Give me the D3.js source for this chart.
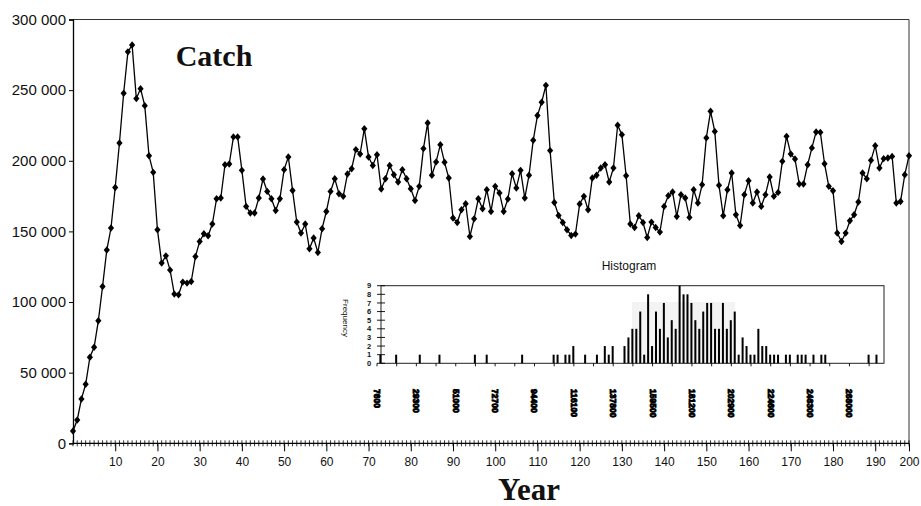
<!DOCTYPE html>
<html><head><meta charset="utf-8">
<script src="https://cdn.jsdelivr.net/npm/d3@7/dist/d3.min.js"></script>
<style>body{margin:0;background:#fff}svg{display:block}</style>
</head><body>
<svg id="c" width="921" height="506"></svg>
<script>
// ---- data ----
const catchValues = [
  8700,16500,31400,41800,60900,68000,86700,111000,136800,152400,
  181100,212600,247800,277100,282000,244000,251000,239000,203600,191800,
  151200,127600,132700,122600,105600,105100,114100,113400,114500,132200,
  142900,148300,146900,155200,173100,173600,197200,197700,216900,216900,
  193200,167700,163000,163000,173600,187100,178300,173100,164800,173100,
  193700,202700,179000,156600,148800,155200,137700,145300,135100,151900,
  164100,178300,187300,176700,174800,190600,194400,207900,204800,222700,
  202700,196700,204300,180000,187300,196700,190100,185000,193700,187300,
  180200,171900,181900,208600,226800,189700,199200,211400,198900,187800,
  159500,156300,165300,169600,146400,158900,173100,166000,179500,164100,
  181900,177200,164100,172900,190800,180700,193200,173600,189700,214500,
  232000,241400,253400,207200,170500,161300,156300,151200,147100,148100,
  169400,174800,165300,187800,189700,194900,197200,185000,194900,225100,
  218500,189400,155200,152800,161100,156300,145700,156600,152800,149500,
  167700,175300,177900,160600,176000,173600,159900,179500,170100,183100,
  216200,235000,220800,182600,161100,179500,191300,161800,154200,176000,
  185900,170100,177900,167700,176000,188500,174800,177600,199600,217300,
  204800,201300,183600,183600,197200,209100,220400,220100,197900,181900,
  178800,148800,142900,148800,157500,161800,170800,191300,187300,200300,
  210700,194900,201500,202000,203100,170100,171200,190100,203600
];
const yTickValues = [0, 50000, 100000, 150000, 200000, 250000, 300000];
const yTickLabels = ["0", "50 000", "100 000", "150 000", "200 000", "250 000", "300 000"];
const xTickYears  = [10, 20, 30, 40, 50, 60, 70, 80, 90, 100, 110, 120, 130, 140, 150, 160, 170, 180, 190, 198];
const xTickLabels = ["10","20","30","40","50","60","70","80","90","100","110","120","130","140","150","160","170","180","190","200"];
const titleText = "Catch";
const xTitle = "Year";

// histogram inset
const histTitle = "Histogram";
const histYLabel = "Frequency";
const histMin = 7600;
const histBinWidth = 2170;
const histBinCount = 127;
const histYTicks = [0,1,2,3,4,5,6,7,8,9];
const histXLabelBins = [0,10,20,30,40,50,60,70,80,90,100,110,120];
const histXLabels = ["7600","29300","51000","72700","94400","116100","137800","159500","181200","202900","224600","246300","268000"];

// ---- drawing ----
const svg = d3.select("#c");
const sans = "'Liberation Sans', Arial, sans-serif";
const serif = "'Liberation Serif', 'Times New Roman', serif";

const x = d3.scaleLinear().domain([0, catchValues.length - 1]).range([73, 909]);
const y = d3.scaleLinear().domain([0, 300000]).range([443.3, 19.5]);

// frame (top & right)
svg.append("path")
  .attr("d", `M${x.range()[0]},${y(300000)}H${x.range()[1]}V${y(0)}`)
  .attr("fill", "none").attr("stroke", "#333").attr("stroke-width", 1);

// y axis
const gy = svg.append("g").attr("transform", `translate(${x.range()[0]},0)`)
  .call(d3.axisLeft(y).tickValues(yTickValues).tickFormat((d, i) => yTickLabels[i]).tickSize(4).tickPadding(3));
gy.select(".domain").attr("stroke", "#000").attr("stroke-width", 1.3);
gy.selectAll(".tick line").attr("stroke", "#000");
gy.selectAll("text").attr("font-family", sans).attr("font-size", 15).attr("fill", "#111");

// x axis baseline
svg.append("line").attr("x1", x.range()[0]).attr("x2", x.range()[1])
  .attr("y1", y(0)).attr("y2", y(0)).attr("stroke", "#000").attr("stroke-width", 1.2);
// minor cross ticks every year
svg.append("g").selectAll("line").data(catchValues.map((d, i) => i)).join("line")
  .attr("x1", d => x(d)).attr("x2", d => x(d))
  .attr("y1", y(0) - 3).attr("y2", y(0) + 3)
  .attr("stroke", "#000").attr("stroke-width", 0.8);
// major ticks + labels
const gx = svg.append("g").attr("transform", `translate(0,${y(0)})`)
  .call(d3.axisBottom(x).tickValues(xTickYears).tickFormat((d, i) => xTickLabels[i]).tickSize(8).tickPadding(6));
gx.select(".domain").remove();
gx.selectAll(".tick line").attr("stroke", "#000").attr("stroke-width", 1);
gx.selectAll("text").attr("font-family", sans).attr("font-size", 12).attr("fill", "#111");

// line series
svg.append("path").datum(catchValues)
  .attr("d", d3.line().x((d, i) => x(i)).y(d => y(d)))
  .attr("fill", "none").attr("stroke", "#000").attr("stroke-width", 1.3);

const diamond = { draw(ctx) { ctx.moveTo(0, -3.7); ctx.lineTo(3.1, 0); ctx.lineTo(0, 3.7); ctx.lineTo(-3.1, 0); ctx.closePath(); } };
svg.append("g").selectAll("path").data(catchValues).join("path")
  .attr("d", d3.symbol(diamond))
  .attr("transform", (d, i) => `translate(${x(i)},${y(d)})`)
  .attr("fill", "#000");

// titles
svg.append("text").text(titleText).attr("x", 214).attr("y", 66).attr("text-anchor", "middle")
  .attr("font-family", serif).attr("font-weight", "bold").attr("font-size", 30).attr("fill", "#111");
svg.append("text").text(xTitle).attr("x", 529).attr("y", 500).attr("text-anchor", "middle")
  .attr("font-family", serif).attr("font-weight", "bold").attr("font-size", 31).attr("fill", "#111");

// ---- histogram inset ----
const hx = d3.scaleLinear().domain([histMin, histMin + histBinCount * histBinWidth]).range([377, 877]);
const hy = d3.scaleLinear().domain([0, 9]).range([363.3, 285.7]).clamp(true);
const edges = d3.range(1, histBinCount).map(i => histMin + i * histBinWidth);
const bins = d3.bin().domain(hx.domain()).thresholds(edges)(catchValues);
const edgeX = k => hx(histMin + k * histBinWidth);

svg.append("text").text(histTitle).attr("x", 629).attr("y", 270).attr("text-anchor", "middle")
  .attr("font-family", sans).attr("font-size", 12).attr("fill", "#111");

// faint shaded patch behind the central bars (as in the scan)
svg.append("rect").attr("x", 632).attr("y", 302).attr("width", 103).attr("height", hy(0) - 302)
  .attr("fill", "#f3f3f3");

// frame
svg.append("rect").attr("x", 381).attr("y", hy(9)).attr("width", 503).attr("height", hy(0) - hy(9))
  .attr("fill", "none").attr("stroke", "#222").attr("stroke-width", 1);

// bars
svg.append("g").selectAll("rect").data(bins.filter(b => b.length > 0)).join("rect")
  .attr("x", b => hx(b.x0) + 2.4).attr("width", 2)
  .attr("y", b => hy(b.length)).attr("height", b => hy(0) - hy(b.length))
  .attr("fill", "#000");

// y ticks
svg.append("g").selectAll("line").data(histYTicks).join("line")
  .attr("x1", 377).attr("x2", 385).attr("y1", d => hy(d)).attr("y2", d => hy(d))
  .attr("stroke", "#000").attr("stroke-width", 0.9);
svg.append("g").selectAll("text").data(histYTicks).join("text")
  .text(d => d).attr("x", 369).attr("y", d => hy(d)).attr("dy", "0.35em").attr("text-anchor", "middle")
  .attr("font-family", sans).attr("font-size", 7.5).attr("font-weight", "bold").attr("fill", "#111");
svg.append("text").text(histYLabel).attr("transform", "translate(343,318) rotate(90)")
  .attr("text-anchor", "middle").attr("font-family", sans).attr("font-size", 8).attr("fill", "#111");

// x minor ticks every 5 bins
svg.append("g").selectAll("line").data(d3.range(0, histBinCount + 1, 5)).join("line")
  .attr("x1", d => edgeX(d)).attr("x2", d => edgeX(d)).attr("y1", hy(0)).attr("y2", hy(0) + 3)
  .attr("stroke", "#000").attr("stroke-width", 0.9);

// x labels (rotated, heavy as in the scan)
svg.append("g").selectAll("text").data(histXLabelBins).join("text")
  .text((d, i) => histXLabels[i])
  .attr("transform", d => `translate(${edgeX(d)},389) rotate(90)`)
  .attr("dy", "0.35em").attr("text-anchor", "start")
  .attr("font-family", sans).attr("font-size", 8.5).attr("font-weight", "bold")
  .attr("fill", "#000").attr("stroke", "#000").attr("stroke-width", 0.9);
</script>
</body></html>
